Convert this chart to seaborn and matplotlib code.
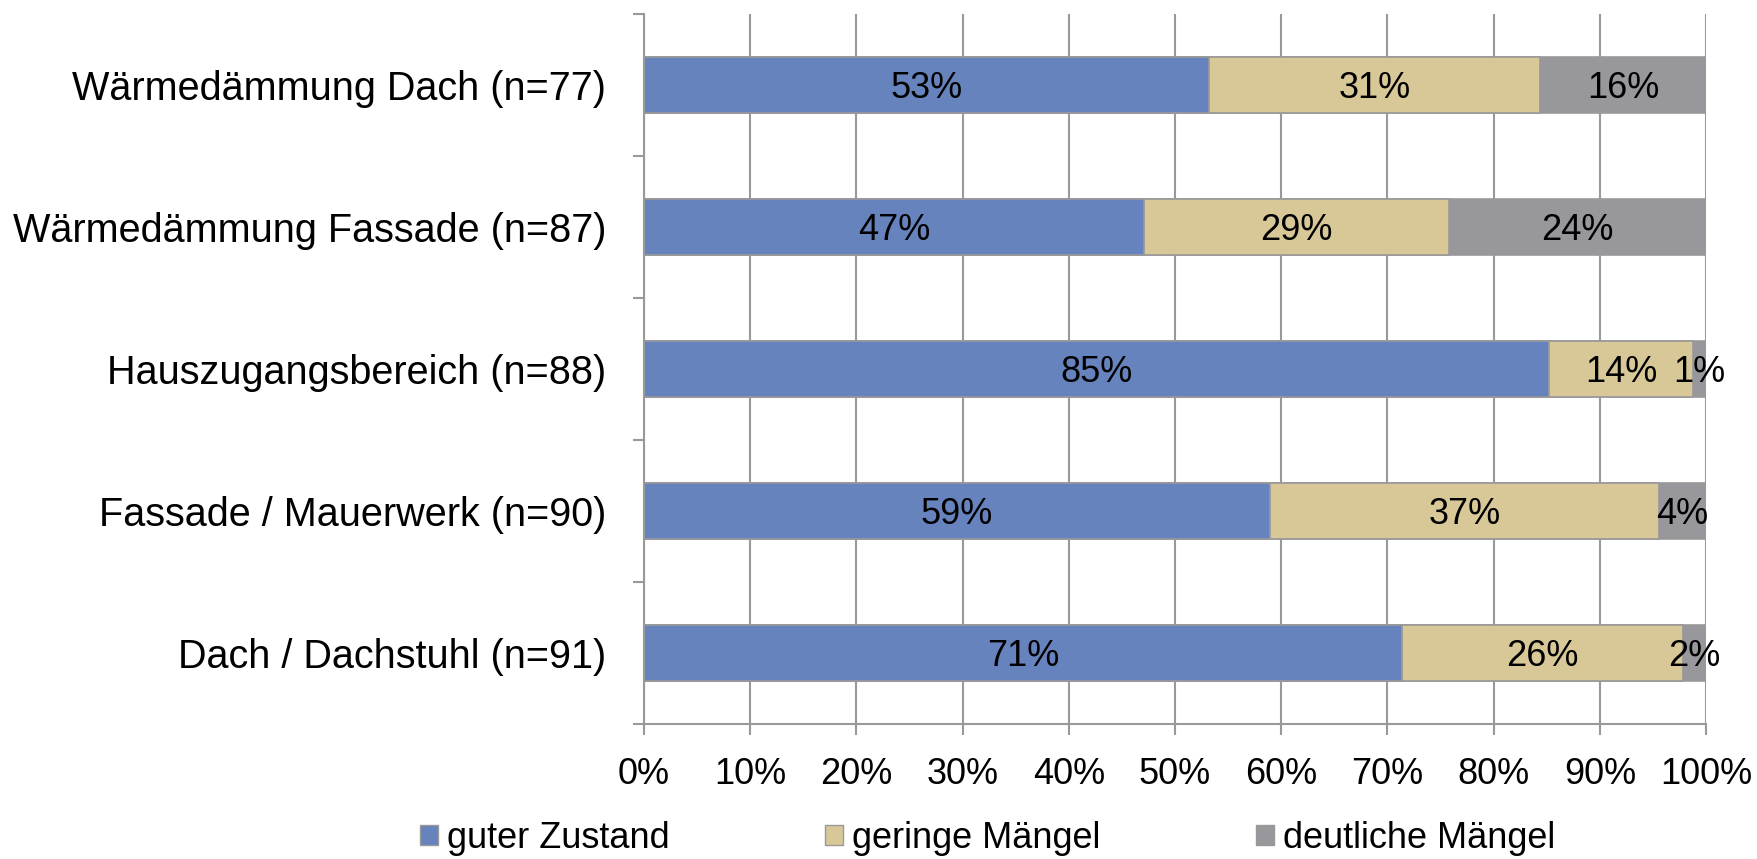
import matplotlib
matplotlib.use("Agg")
import matplotlib.pyplot as plt
import seaborn as sns
import pandas as pd
import numpy as np
from matplotlib.patches import Patch
from matplotlib.ticker import MultipleLocator, PercentFormatter

# data (shares in %)
categories = ["Wärmedämmung Dach (n=77)", "Wärmedämmung Fassade (n=87)",
              "Hauszugangsbereich (n=88)", "Fassade / Mauerwerk (n=90)",
              "Dach / Dachstuhl (n=91)"]
guter_zustand = [53.2, 47.1, 85.2, 58.9, 71.4]
geringe_maengel = [31.2, 28.7, 13.6, 36.7, 26.4]
deutliche_maengel = [15.6, 24.2, 1.2, 4.4, 2.2]
series_names = ["guter Zustand", "geringe Mängel", "deutliche Mängel"]
colors = ["#6683BE", "#D9C897", "#97979C"]

sns.set_style("white")
plt.rcParams["font.family"] = ["Liberation Sans", "DejaVu Sans"]
plt.rcParams["text.color"] = "black"

df = pd.DataFrame({"cat": categories, "g": guter_zustand,
                   "m": geringe_maengel, "d": deutliche_maengel})
df["cum1"] = df["g"]
df["cum2"] = df["g"] + df["m"]
df["cum3"] = df["g"] + df["m"] + df["d"]

fig = plt.figure(figsize=(17.57, 8.59), dpi=100)
ax = fig.add_axes([0.3665, 0.1572, 0.6045, 0.8265])

ax.xaxis.grid(True, color="#999999", lw=1.5)
ax.set_axisbelow(True)

# stacked bars: draw cumulative totals from back to front
for col, c in zip(["cum3", "cum2", "cum1"], colors[::-1]):
    sns.barplot(data=df, x=col, y="cat", orient="h", color=c, width=0.4,
                edgecolor="#999999", linewidth=1.2, saturation=1, ax=ax)

# segment labels
for i, row in df.iterrows():
    starts = [0, row["cum1"], row["cum2"]]
    vals = [row["g"], row["m"], row["d"]]
    for s, v in zip(starts, vals):
        ax.text(s + v / 2, i, f"{round(v)}%", ha="center",
                va="center_baseline", fontsize=26, color="black")

ax.set_xlim(0, 100)
ax.set_ylim(len(categories) - 0.5, -0.5)
ax.set_xlabel("")
ax.set_ylabel("")
ax.xaxis.set_major_locator(MultipleLocator(10))
ax.xaxis.set_major_formatter(PercentFormatter(decimals=0))
ax.set_yticks(np.arange(len(categories)))
ax.set_yticklabels(categories)
ax.set_yticks(np.arange(-0.5, len(categories), 1), minor=True)

ax.tick_params(axis="x", which="major", length=8, width=1.5, color="#999999",
               labelsize=26, labelcolor="black", pad=16, direction="out", bottom=True)
ax.tick_params(axis="y", which="major", length=0, labelsize=28.5,
               labelcolor="black", pad=27)
ax.tick_params(axis="y", which="minor", length=8, width=1.5, color="#999999",
               direction="out", left=True)

for side in ["top", "right"]:
    ax.spines[side].set_visible(False)
for side in ["left", "bottom"]:
    ax.spines[side].set_color("#999999")
    ax.spines[side].set_linewidth(1.5)

handles = [Patch(facecolor=c, edgecolor="#999999", label=n)
           for c, n in zip(colors, series_names)]
fig.legend(handles=handles, loc="center", bbox_to_anchor=(0.562, 0.024),
           ncol=3, frameon=False, fontsize=26, handlelength=0.5,
           handleheight=0.5, handletextpad=0.25, columnspacing=4.3,
           borderpad=0.1)

fig.savefig("out.png", dpi=100)
